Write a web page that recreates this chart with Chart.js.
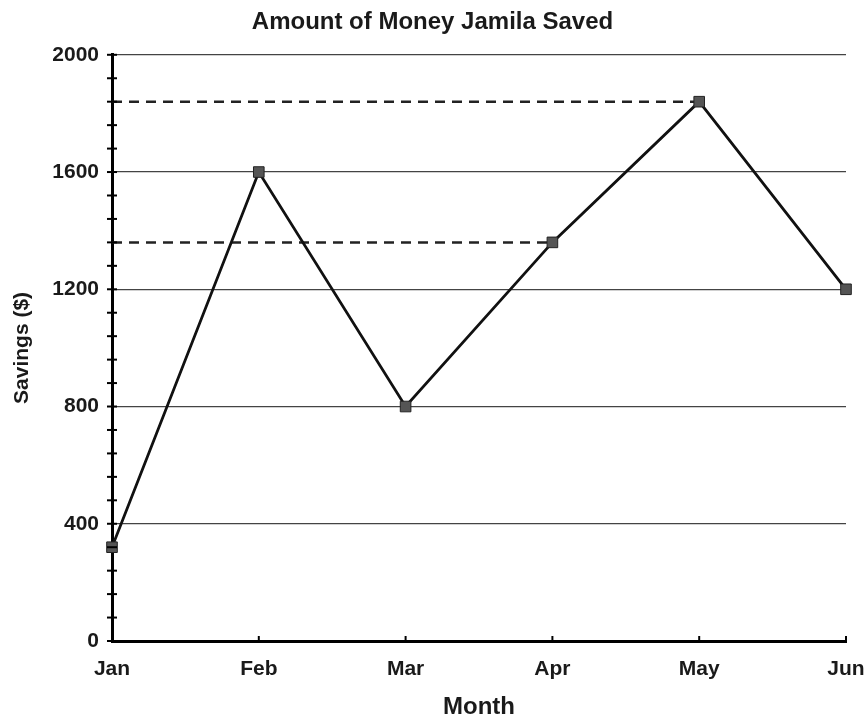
<!DOCTYPE html>
<html lang="en">
<head>
    <meta charset="UTF-8">
    <title>Amount of Money Jamila Saved</title>
    <style>
        body {
            margin: 0;
            background: #fff;
        }
        #wrap {
            width: 865px;
            height: 722px;
        }
    </style>
</head>
<body>
    <div id="wrap">
        <canvas id="savingsChart" width="865" height="722"></canvas>
    </div>
    <script src="https://cdn.jsdelivr.net/npm/chart.js"></script>
    <script>
        // values
        const months = ['Jan', 'Feb', 'Mar', 'Apr', 'May', 'Jun'];
        const savings = [320, 1600, 800, 1360, 1840, 1200];
        // dashed guide lines from the y axis over to Apr and May
        const aprGuide = [1360, null, null, 1360, null, null];
        const mayGuide = [1840, null, null, null, 1840, null];
        const yLabels = [0, 400, 800, 1200, 1600, 2000];

        const fontFamily = 'Arial, "Liberation Sans", sans-serif';

        // small tick marks crossing the axes
        const axisTicks = {
            id: 'axisTicks',
            afterDraw(chart) {
                const ctx = chart.ctx;
                const y = chart.scales.y;
                const x = chart.scales.x;
                ctx.save();
                ctx.strokeStyle = '#000';
                ctx.lineWidth = 2;
                y.ticks.forEach(t => {
                    const py = y.getPixelForValue(t.value);
                    ctx.beginPath();
                    ctx.moveTo(y.right - 5, py);
                    ctx.lineTo(y.right + 5, py);
                    ctx.stroke();
                });
                months.forEach((m, i) => {
                    if (i === 0) return;
                    const px = x.getPixelForValue(i);
                    ctx.beginPath();
                    ctx.moveTo(px, x.top);
                    ctx.lineTo(px, x.top - 5);
                    ctx.stroke();
                });
                ctx.restore();
            }
        };

        const ctx = document.getElementById('savingsChart').getContext('2d');
        new Chart(ctx, {
            type: 'line',
            data: {
                labels: months,
                datasets: [{
                    label: 'Savings',
                    data: savings,
                    borderColor: '#111',
                    borderWidth: 2.8,
                    pointStyle: 'rect',
                    pointRadius: 7.5,
                    pointBackgroundColor: '#555',
                    pointBorderColor: '#222',
                    pointBorderWidth: 1,
                    tension: 0,
                    order: 1
                }, {
                    label: 'Apr guide',
                    data: aprGuide,
                    borderColor: '#222',
                    borderWidth: 2.5,
                    borderDash: [10, 7],
                    pointRadius: 0,
                    spanGaps: true,
                    order: 2
                }, {
                    label: 'May guide',
                    data: mayGuide,
                    borderColor: '#222',
                    borderWidth: 2.5,
                    borderDash: [10, 7],
                    pointRadius: 0,
                    spanGaps: true,
                    order: 2
                }]
            },
            options: {
                responsive: false,
                animation: false,
                layout: {
                    padding: { left: 0, right: 0, top: 0, bottom: 0 }
                },
                plugins: {
                    legend: { display: false },
                    tooltip: { enabled: false },
                    title: {
                        display: true,
                        text: 'Amount of Money Jamila Saved',
                        color: '#1a1a1a',
                        font: { family: fontFamily, size: 24, weight: 'bold' },
                        padding: { top: 8, bottom: 18 }
                    }
                },
                scales: {
                    x: {
                        afterFit: scale => {
                            scale.height = 81;
                            scale.paddingRight = 19;
                        },
                        grid: { display: false },
                        border: { display: true, color: '#000', width: 3 },
                        ticks: {
                            color: '#1a1a1a',
                            padding: 8,
                            font: { family: fontFamily, size: 21, weight: 'bold' }
                        },
                        title: {
                            display: true,
                            text: 'Month',
                            color: '#1a1a1a',
                            font: { family: fontFamily, size: 24, weight: 'bold' },
                            padding: { top: 0, bottom: 0 }
                        }
                    },
                    y: {
                        min: 0,
                        max: 2000,
                        afterFit: scale => { scale.width = 112; },
                        border: { display: true, color: '#000', width: 3 },
                        grid: {
                            drawTicks: false,
                            lineWidth: 1.2,
                            color: c => yLabels.includes(c.tick.value) ? '#444' : 'rgba(0,0,0,0)'
                        },
                        ticks: {
                            stepSize: 80,
                            autoSkip: false,
                            padding: 13,
                            color: '#1a1a1a',
                            font: { family: fontFamily, size: 21, weight: 'bold' },
                            callback: v => yLabels.includes(v) ? String(v) : ''
                        },
                        title: {
                            display: true,
                            text: 'Savings ($)',
                            color: '#1a1a1a',
                            font: { family: fontFamily, size: 21, weight: 'bold' },
                            padding: { top: 10, bottom: 0 }
                        }
                    }
                }
            },
            plugins: [axisTicks]
        });
    </script>
</body>
</html>
